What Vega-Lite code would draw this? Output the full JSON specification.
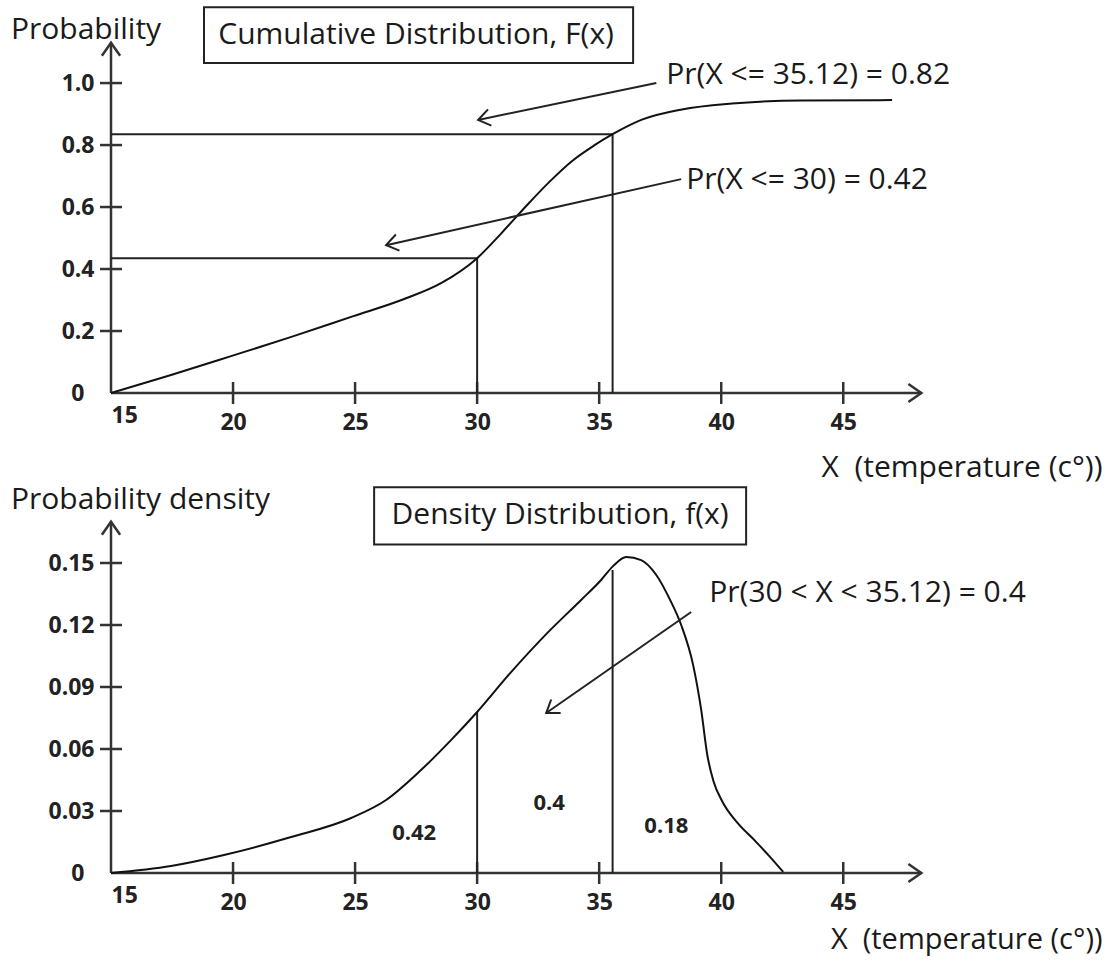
{
  "$schema": "https://vega.github.io/schema/vega-lite/v6.json",
  "background": "white",
  "padding": {"left": 10, "top": 0, "right": 4, "bottom": 8},
  "spacing": 0,
  "config": {"view": {"stroke": null}, "font": "Open Sans"},
  "vconcat": [
    {
      "width": 991,
      "height": 393,
      "encoding": {
        "x": {"field": "x", "type": "quantitative",
          "scale": {"domain": [15, 55.6], "zero": false, "nice": false},
          "axis": {"title": "X\u00a0 (temperature (c°))", "values": [15, 20, 25, 30, 35, 40, 45],
            "domain": false, "ticks": false, "tickSize": 0, "grid": false,
            "labelFont": "Open Sans", "labelFontSize": 23, "labelFontWeight": "bold", "labelColor": "#222",
            "labelPadding": {"condition": {"test": "datum.value == 15", "value": 11}, "value": 18},
            "labelFlush": false, "labelOverlap": false,
            "labelAlign": {"condition": {"test": "datum.value == 15", "value": "left"}, "value": "center"},
            "titleFont": "Open Sans", "titleFontSize": 30, "titleFontWeight": "normal", "titleColor": "#1a1a1a",
            "titleAnchor": "end", "titlePadding": 18}},
        "y": {"field": "y", "type": "quantitative",
          "scale": {"domain": [0, 1.268], "zero": false, "nice": false},
          "axis": {"title": null, "values": [0, 0.2, 0.4, 0.6, 0.8, 1.0],
            "domain": false, "ticks": false, "tickSize": 0, "grid": false,
            "labelFont": "Open Sans", "labelFontSize": 23, "labelFontWeight": "bold", "labelColor": "#222",
            "labelPadding": {"condition": {"test": "datum.value == 0", "value": 27}, "value": 17},
            "labelOverlap": false, "labelFlush": false,
            "labelExpr": "datum.value == 0 ? '0' : format(datum.value, '.1f')"}}
      },
      "layer": [
        {"data": {"values": [{"x": 15, "y": 0, "x2": 15, "y2": 1.13}, {"x": 15, "y": 0, "x2": 48.2, "y2": 0}]},
         "mark": {"type": "rule", "strokeWidth": 2.5, "color": "#333"},
         "encoding": {"x2": {"field": "x2"}, "y2": {"field": "y2"}}},
        {"data": {"values": [{"x": 15, "y": 1.13}]},
         "mark": {"type": "point", "shape": "M-1,-0.7L0,0L-1,0.7", "size": 676, "angle": -90, "filled": false, "strokeWidth": 2.5, "color": "#333", "opacity": 1}},
        {"data": {"values": [{"x": 48.2, "y": 0}]},
         "mark": {"type": "point", "shape": "M-1,-0.7L0,0L-1,0.7", "size": 676, "angle": 0, "filled": false, "strokeWidth": 2.5, "color": "#333", "opacity": 1}},
        {"data": {"values": [{"x": 20, "y": 0}, {"x": 25, "y": 0}, {"x": 30, "y": 0}, {"x": 35, "y": 0}, {"x": 40, "y": 0}, {"x": 45, "y": 0}]},
         "mark": {"type": "tick", "orient": "vertical", "size": 22, "thickness": 2.5, "color": "#333", "opacity": 1}},
        {"data": {"values": [{"x": 15, "y": 0.2}, {"x": 15, "y": 0.4}, {"x": 15, "y": 0.6}, {"x": 15, "y": 0.8}, {"x": 15, "y": 1.0}]},
         "mark": {"type": "tick", "orient": "horizontal", "size": 22, "thickness": 2.5, "color": "#333", "opacity": 1}},
        {"data": {"values": [
          {"x": 15, "y": 0.835, "x2": 35.55, "y2": 0.835},
          {"x": 15, "y": 0.435, "x2": 30, "y2": 0.435},
          {"x": 30, "y": 0, "x2": 30, "y2": 0.435},
          {"x": 35.55, "y": 0, "x2": 35.55, "y2": 0.835}]},
         "mark": {"type": "rule", "strokeWidth": 2, "color": "#222"},
         "encoding": {"x2": {"field": "x2"}, "y2": {"field": "y2"}}},
        {"data": {"values": [
          {"x": 15, "y": 0}, {"x": 17.46, "y": 0.058}, {"x": 19.92, "y": 0.119}, {"x": 22.39, "y": 0.181},
          {"x": 24.93, "y": 0.248}, {"x": 26.9, "y": 0.3}, {"x": 28.54, "y": 0.355}, {"x": 30.0, "y": 0.435},
          {"x": 31.0, "y": 0.516}, {"x": 32.03, "y": 0.605}, {"x": 32.97, "y": 0.682}, {"x": 33.88, "y": 0.748},
          {"x": 34.78, "y": 0.798}, {"x": 35.55, "y": 0.835}, {"x": 36.75, "y": 0.882}, {"x": 38.39, "y": 0.915},
          {"x": 40.44, "y": 0.934}, {"x": 43.31, "y": 0.944}, {"x": 47.0, "y": 0.945}]},
         "mark": {"type": "line", "interpolate": "monotone", "strokeWidth": 2, "color": "#111"},
         "encoding": {}},
        {"data": {"values": [
          {"x": 37.34, "y": 1.0, "x2": 30.04, "y2": 0.881},
          {"x": 38.36, "y": 0.69, "x2": 26.27, "y2": 0.477}]},
         "mark": {"type": "rule", "strokeWidth": 2, "color": "#222"},
         "encoding": {"x2": {"field": "x2"}, "y2": {"field": "y2"}}},
        {"data": {"values": [{"x": 30.04, "y": 0.881}]},
         "mark": {"type": "point", "shape": "M-1,-0.7L0,0L-1,0.7", "size": 560, "angle": 168.3, "filled": false, "strokeWidth": 2, "color": "#222", "opacity": 1}},
        {"data": {"values": [{"x": 26.27, "y": 0.477}]},
         "mark": {"type": "point", "shape": "M-1,-0.7L0,0L-1,0.7", "size": 560, "angle": 167.4, "filled": false, "strokeWidth": 2, "color": "#222", "opacity": 1}},
        {"data": {"values": [{"x": 18.81, "y": 1.065, "x2": 36.39, "y2": 1.245}]},
         "mark": {"type": "rect", "fill": "white", "stroke": "#222", "strokeWidth": 2},
         "encoding": {"x2": {"field": "x2"}, "y2": {"field": "y2"}}},
        {"data": {"values": [{"x": 27.5, "y": 1.155, "t": "Cumulative Distribution, F(x)"}]},
         "mark": {"type": "text", "align": "center", "baseline": "middle", "fontSize": 30, "font": "Open Sans", "color": "#1a1a1a"},
         "encoding": {"text": {"field": "t"}}},
        {"data": {"values": [
          {"x": 10.9, "y": 1.171, "t": "Probability"},
          {"x": 37.75, "y": 1.026, "t": "Pr(X <= 35.12) = 0.82"},
          {"x": 38.57, "y": 0.687, "t": "Pr(X <= 30) = 0.42"}]},
         "mark": {"type": "text", "align": "left", "baseline": "middle", "fontSize": 30, "font": "Open Sans", "color": "#1a1a1a"},
         "encoding": {"text": {"field": "t"}}}
      ]
    },
    {
      "width": 991,
      "height": 391,
      "encoding": {
        "x": {"field": "x", "type": "quantitative",
          "scale": {"domain": [15, 55.6], "zero": false, "nice": false},
          "axis": {"title": "X\u00a0 (temperature (c°))", "values": [15, 20, 25, 30, 35, 40, 45],
            "domain": false, "ticks": false, "tickSize": 0, "grid": false,
            "labelFont": "Open Sans", "labelFontSize": 23, "labelFontWeight": "bold", "labelColor": "#222",
            "labelPadding": {"condition": {"test": "datum.value == 15", "value": 11}, "value": 18},
            "labelFlush": false, "labelOverlap": false,
            "labelAlign": {"condition": {"test": "datum.value == 15", "value": "left"}, "value": "center"},
            "titleFont": "Open Sans", "titleFontSize": 29, "titleFontWeight": "normal", "titleColor": "#1a1a1a",
            "titleAnchor": "end", "titlePadding": 11}},
        "y": {"field": "y", "type": "quantitative",
          "scale": {"domain": [0, 0.1892], "zero": false, "nice": false},
          "axis": {"title": null, "values": [0, 0.03, 0.06, 0.09, 0.12, 0.15],
            "domain": false, "ticks": false, "tickSize": 0, "grid": false,
            "labelFont": "Open Sans", "labelFontSize": 23, "labelFontWeight": "bold", "labelColor": "#222",
            "labelPadding": {"condition": {"test": "datum.value == 0", "value": 27}, "value": 17},
            "labelOverlap": false, "labelFlush": false,
            "labelExpr": "datum.value == 0 ? '0' : format(datum.value, '.2f')"}}
      },
      "layer": [
        {"data": {"values": [{"x": 15, "y": 0, "x2": 15, "y2": 0.17}, {"x": 15, "y": 0, "x2": 48.2, "y2": 0}]},
         "mark": {"type": "rule", "strokeWidth": 2.5, "color": "#333"},
         "encoding": {"x2": {"field": "x2"}, "y2": {"field": "y2"}}},
        {"data": {"values": [{"x": 15, "y": 0.17}]},
         "mark": {"type": "point", "shape": "M-1,-0.7L0,0L-1,0.7", "size": 676, "angle": -90, "filled": false, "strokeWidth": 2.5, "color": "#333", "opacity": 1}},
        {"data": {"values": [{"x": 48.2, "y": 0}]},
         "mark": {"type": "point", "shape": "M-1,-0.7L0,0L-1,0.7", "size": 676, "angle": 0, "filled": false, "strokeWidth": 2.5, "color": "#333", "opacity": 1}},
        {"data": {"values": [{"x": 20, "y": 0}, {"x": 25, "y": 0}, {"x": 30, "y": 0}, {"x": 35, "y": 0}, {"x": 40, "y": 0}, {"x": 45, "y": 0}]},
         "mark": {"type": "tick", "orient": "vertical", "size": 22, "thickness": 2.5, "color": "#333", "opacity": 1}},
        {"data": {"values": [{"x": 15, "y": 0.03}, {"x": 15, "y": 0.06}, {"x": 15, "y": 0.09}, {"x": 15, "y": 0.12}, {"x": 15, "y": 0.15}]},
         "mark": {"type": "tick", "orient": "horizontal", "size": 22, "thickness": 2.5, "color": "#333", "opacity": 1}},
        {"data": {"values": [
          {"x": 30, "y": 0, "x2": 30, "y2": 0.0779},
          {"x": 35.55, "y": 0, "x2": 35.55, "y2": 0.1466}]},
         "mark": {"type": "rule", "strokeWidth": 2, "color": "#222"},
         "encoding": {"x2": {"field": "x2"}, "y2": {"field": "y2"}}},
        {"data": {"values": [
          {"x": 15, "y": 0}, {"x": 17.46, "y": 0.0034}, {"x": 19.63, "y": 0.0087}, {"x": 22.38, "y": 0.0174},
          {"x": 24.84, "y": 0.0266}, {"x": 26.27, "y": 0.0353}, {"x": 27.7, "y": 0.0498}, {"x": 28.93, "y": 0.0643},
          {"x": 30.0, "y": 0.0779}, {"x": 31.39, "y": 0.0972}, {"x": 32.83, "y": 0.1156}, {"x": 34.26, "y": 0.1321},
          {"x": 35.08, "y": 0.1418}, {"x": 35.57, "y": 0.1485}, {"x": 36.11, "y": 0.1529}, {"x": 36.72, "y": 0.1514},
          {"x": 37.34, "y": 0.1442}, {"x": 37.87, "y": 0.133}, {"x": 38.36, "y": 0.12}, {"x": 38.85, "y": 0.1006},
          {"x": 39.18, "y": 0.0789}, {"x": 39.43, "y": 0.0571}, {"x": 39.68, "y": 0.0445}, {"x": 40.05, "y": 0.0345},
          {"x": 40.65, "y": 0.0245}, {"x": 41.35, "y": 0.016}, {"x": 41.97, "y": 0.0082}, {"x": 42.54, "y": 0.0005}]},
         "mark": {"type": "line", "interpolate": "monotone", "strokeWidth": 2, "color": "#111"},
         "encoding": {}},
        {"data": {"values": [{"x": 38.77, "y": 0.1263, "x2": 32.83, "y2": 0.0774}]},
         "mark": {"type": "rule", "strokeWidth": 2, "color": "#222"},
         "encoding": {"x2": {"field": "x2"}, "y2": {"field": "y2"}}},
        {"data": {"values": [{"x": 32.83, "y": 0.0774}]},
         "mark": {"type": "point", "shape": "M-1,-0.7L0,0L-1,0.7", "size": 560, "angle": 145.1, "filled": false, "strokeWidth": 2, "color": "#222", "opacity": 1}},
        {"data": {"values": [{"x": 25.78, "y": 0.159, "x2": 41.02, "y2": 0.1867}]},
         "mark": {"type": "rect", "fill": "white", "stroke": "#222", "strokeWidth": 2},
         "encoding": {"x2": {"field": "x2"}, "y2": {"field": "y2"}}},
        {"data": {"values": [{"x": 33.4, "y": 0.1732, "t": "Density Distribution, f(x)"}]},
         "mark": {"type": "text", "align": "center", "baseline": "middle", "fontSize": 30, "font": "Open Sans", "color": "#1a1a1a"},
         "encoding": {"text": {"field": "t"}}},
        {"data": {"values": [
          {"x": 10.9, "y": 0.1805, "t": "Probability density"},
          {"x": 39.51, "y": 0.1355, "t": "Pr(30 < X < 35.12) = 0.4"}]},
         "mark": {"type": "text", "align": "left", "baseline": "middle", "fontSize": 30, "font": "Open Sans", "color": "#1a1a1a"},
         "encoding": {"text": {"field": "t"}}},
        {"data": {"values": [
          {"x": 27.42, "y": 0.0194, "t": "0.42"},
          {"x": 32.95, "y": 0.0339, "t": "0.4"},
          {"x": 37.75, "y": 0.0227, "t": "0.18"}]},
         "mark": {"type": "text", "align": "center", "baseline": "middle", "fontSize": 22, "fontWeight": "bold", "font": "Open Sans", "color": "#222"},
         "encoding": {"text": {"field": "t"}}}
      ]
    }
  ]
}
